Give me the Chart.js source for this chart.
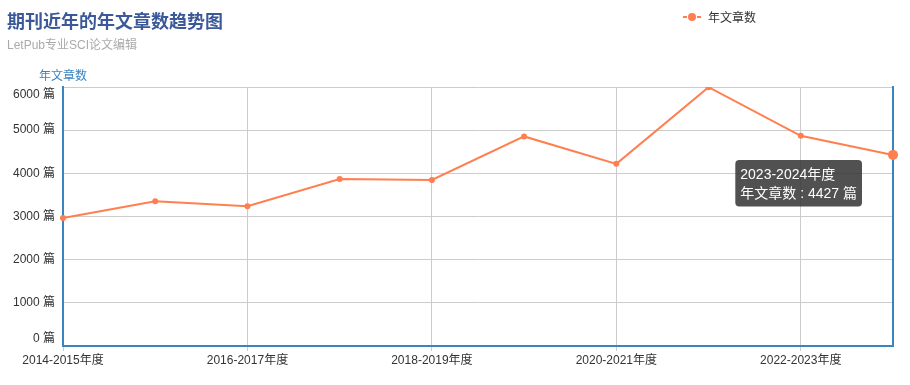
<!DOCTYPE html>
<html>
<head>
<meta charset="utf-8">
<script src="https://cdn.jsdelivr.net/npm/chart.js@4/dist/chart.umd.min.js"></script>
<style>
    html, body { margin: 0; padding: 0; background: #fff; }
    #wrap { position: relative; width: 910px; height: 385px; font-family: "Liberation Sans", "Noto Sans CJK SC", sans-serif; }
    #chartCanvas { position: absolute; left: 0; top: 0; }
    .title { position: absolute; left: 7px; top: 7px; font-size: 18px; font-weight: bold; color: #3b5998; }
    .subtitle { position: absolute; left: 7px; top: 35px; font-size: 12px; color: #aaa; }
    .legend { position: absolute; left: 683px; top: 8px; font-size: 12px; color: #333; display: flex; align-items: center; }
    .legend .icon { position: relative; width: 18px; height: 14px; margin-right: 7px; }
    .legend .icon .ln { position: absolute; top: 6px; height: 2px; width: 4px; background: #ff7f50; }
    .legend .icon .dot { position: absolute; left: 5px; top: 3px; width: 8px; height: 8px; border-radius: 50%; background: #ff7f50; }
    .axisName { position: absolute; left: 39px; top: 66px; font-size: 12px; color: #3a84c0; }
</style>
</head>
<body>
<div id="wrap">
    <canvas id="chartCanvas" width="910" height="385"></canvas>
    <div class="title">期刊近年的年文章数趋势图</div>
    <div class="subtitle">LetPub专业SCI论文编辑</div>
    <div class="legend">
        <span class="icon"><span class="ln" style="left:0"></span><span class="dot"></span><span class="ln" style="left:14px"></span></span>
        <span>年文章数</span>
    </div>
    <div class="axisName">年文章数</div>
</div>
<script>
    // --------------------
    // Data
    // --------------------
    const yearLabels = ['2014-2015年度', '2015-2016年度', '2016-2017年度', '2017-2018年度', '2018-2019年度',
        '2019-2020年度', '2020-2021年度', '2021-2022年度', '2022-2023年度', '2023-2024年度'];
    const articleCounts = [2965, 3355, 3240, 3870, 3845, 4855, 4220, 5995, 4870, 4427];
    const seriesName = '年文章数';
    const yTicks = [0, 1000, 2000, 3000, 4000, 5000, 6000];
    const unit = '篇';
    const tooltipIndex = 9;

    const axisBlue = '#3a84c0';
    const gridGray = '#cccccc';
    const lineColor = '#ff7f50';
    const fontFamily = '"Liberation Sans", "Noto Sans CJK SC", sans-serif';

    // --------------------
    // Tooltip position (box to lower-left of point)
    // --------------------
    const positioners = Chart.Tooltip ? Chart.Tooltip.positioners : Chart.registry.plugins.get('tooltip').positioners;
    positioners.lowerLeft = function (items) {
        if (!items.length) return false;
        const el = items[0].element;
        return { x: el.x - 35, y: el.y + 5 };
    };

    const ctx = document.getElementById('chartCanvas').getContext('2d');

    const chart = new Chart(ctx, {
        type: 'line',
        data: {
            labels: yearLabels,
            datasets: [{
                label: seriesName,
                data: articleCounts,
                borderColor: lineColor,
                backgroundColor: lineColor,
                borderWidth: 2,
                pointRadius: 3,
                pointBorderWidth: 0,
                pointHoverRadius: 5,
                pointHoverBorderWidth: 0,
                pointBackgroundColor: lineColor,
                pointHoverBackgroundColor: lineColor,
                tension: 0
            }]
        },
        options: {
            responsive: false,
            animation: false,
            events: [],
            layout: { padding: { top: 87, right: 17, left: 0, bottom: 0 } },
            plugins: {
                legend: { display: false },
                title: { display: false },
                tooltip: {
                    position: 'lowerLeft',
                    xAlign: 'right',
                    yAlign: 'top',
                    caretSize: 0,
                    caretPadding: 0,
                    cornerRadius: 4,
                    displayColors: false,
                    backgroundColor: 'rgba(50,50,50,0.85)',
                    padding: { left: 5, right: 5, top: 7, bottom: 4 },
                    titleMarginBottom: 2,
                    titleFont: { family: fontFamily, size: 14, weight: 'normal' },
                    bodyFont: { family: fontFamily, size: 14 },
                    titleColor: '#fff',
                    bodyColor: '#fff',
                    callbacks: {
                        title: items => items[0].label,
                        label: item => item.dataset.label + ' : ' + item.parsed.y + ' ' + unit
                    }
                }
            },
            scales: {
                x: {
                    offset: false,
                    border: { color: axisBlue, width: 2 },
                    grid: {
                        color: c => (c.index % 2 === 0 ? gridGray : 'rgba(0,0,0,0)'),
                        tickColor: c => (c.index % 2 === 0 ? gridGray : 'rgba(0,0,0,0)'),
                        tickLength: 5,
                        lineWidth: 1
                    },
                    ticks: {
                        autoSkip: false,
                        maxRotation: 0,
                        padding: 2,
                        color: '#333',
                        font: { family: fontFamily, size: 12 },
                        callback: (v, i) => (i % 2 === 0 ? yearLabels[i] : '')
                    },
                    afterFit: s => { s.height = 39; }
                },
                y: {
                    min: yTicks[0],
                    max: yTicks[yTicks.length - 1],
                    border: { color: axisBlue, width: 2 },
                    grid: { color: gridGray, drawTicks: false },
                    afterBuildTicks: s => { s.ticks = yTicks.map(v => ({ value: v })); },
                    ticks: {
                        padding: 8,
                        color: '#333',
                        font: { family: fontFamily, size: 12 },
                        callback: v => {
                            const txt = v + ' ' + unit;
                            if (v === yTicks[yTicks.length - 1]) return ['', txt];
                            if (v === yTicks[0]) return [txt, ''];
                            return txt;
                        }
                    },
                    afterFit: s => { s.width = 63; }
                },
                yRight: {
                    position: 'right',
                    min: 0,
                    max: 6000,
                    border: { color: axisBlue, width: 2 },
                    grid: { display: false, drawTicks: false },
                    ticks: { display: false },
                    afterFit: s => { s.width = 0; }
                }
            }
        }
    });

    // --------------------
    // Show hovered point + tooltip
    // --------------------
    const active = [{ datasetIndex: 0, index: tooltipIndex }];
    chart.setActiveElements(active);
    chart.tooltip.setActiveElements(active, { x: 0, y: 0 });
    chart.update();
</script>
</body>
</html>
